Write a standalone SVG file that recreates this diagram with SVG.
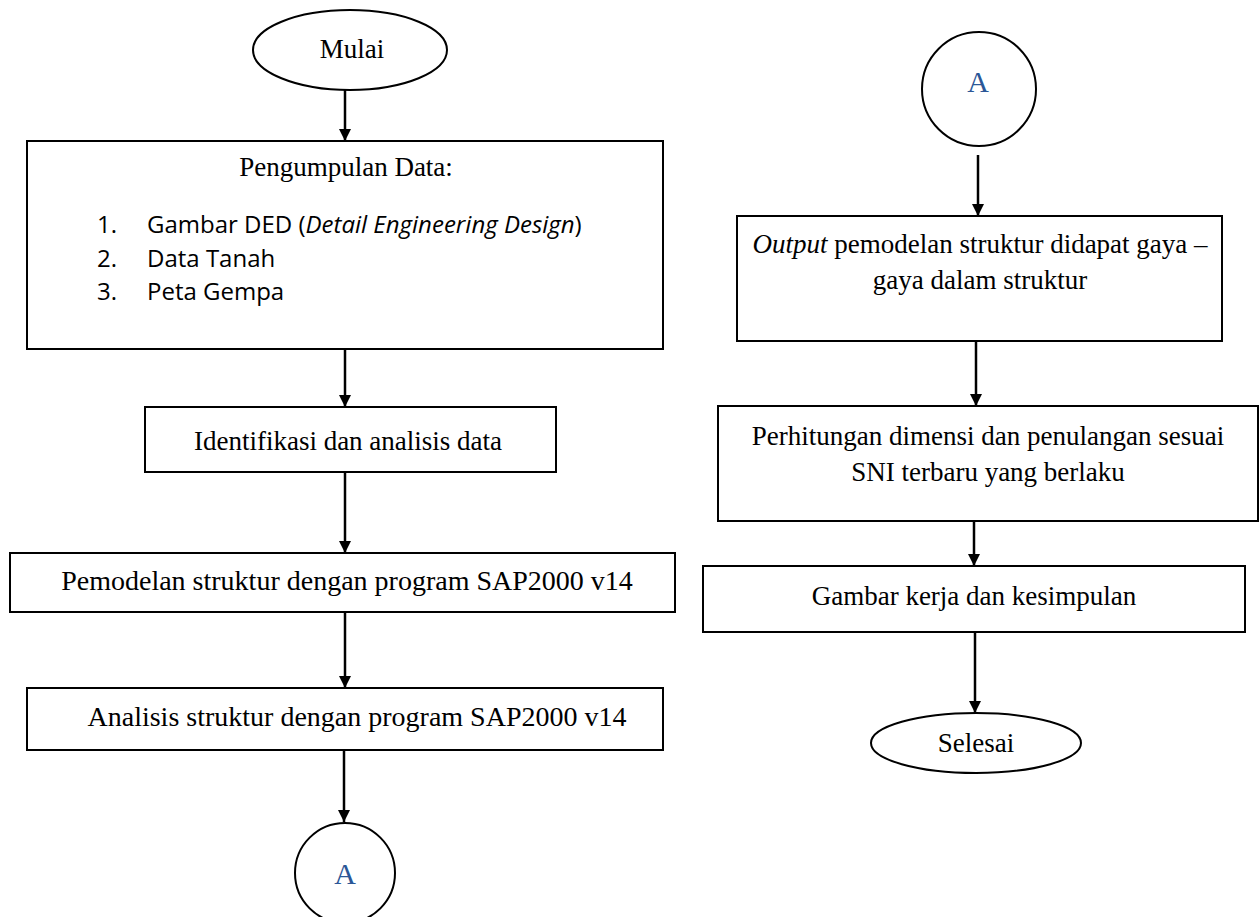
<svg xmlns="http://www.w3.org/2000/svg" width="1260" height="917" viewBox="0 0 1260 917">
<defs>
<marker id="arr" viewBox="0 0 10 10" refX="10" refY="5" markerWidth="13" markerHeight="12" orient="auto" markerUnits="userSpaceOnUse">
<path d="M0,0 L10,5 L0,10 z" fill="#000"/>
</marker>
<style>
.shape{fill:#fff;stroke:#000;stroke-width:2}
.t{font-family:"Liberation Serif","Times New Roman",serif;font-size:27px;fill:#000;text-anchor:middle}
.big{font-size:28px}
.c{font-family:"Open Sans","Noto Sans","Liberation Sans",sans-serif;font-size:24px;fill:#000}
.a{font-family:"Liberation Serif","Times New Roman",serif;font-size:30px;fill:#2B5797;text-anchor:middle}
.conn line{stroke:#000;stroke-width:2.5;marker-end:url(#arr)}
</style>
</defs>
<rect width="1260" height="917" fill="#fff"/>
<g class="conn" id="connectors">
<line x1="345" y1="90" x2="345" y2="141"/>
<line x1="345" y1="349" x2="345" y2="407"/>
<line x1="345" y1="472" x2="345" y2="553"/>
<line x1="345" y1="612" x2="345" y2="688"/>
<line x1="344" y1="745" x2="344" y2="822"/>
<line x1="978" y1="155" x2="978" y2="216"/>
<line x1="976" y1="341" x2="976" y2="406"/>
<line x1="974" y1="521" x2="974" y2="566"/>
<line x1="975" y1="632" x2="975" y2="713"/>
</g>
<g id="mulai">
<ellipse class="shape" cx="350" cy="50" rx="97" ry="40"/>
<text class="t" x="352" y="58">Mulai</text>
</g>
<g id="pengumpulan">
<rect class="shape" x="27" y="141" width="636" height="208"/>
<text class="t" x="346" y="176">Pengumpulan Data:</text>
<text class="c" x="97" y="233">1.</text>
<text class="c" x="147" y="233">Gambar DED (<tspan font-style="italic">Detail Engineering Design</tspan>)</text>
<text class="c" x="97" y="267">2.</text>
<text class="c" x="147" y="267">Data Tanah</text>
<text class="c" x="97" y="300">3.</text>
<text class="c" x="147" y="300">Peta Gempa</text>
</g>
<g id="identifikasi">
<rect class="shape" x="145" y="407" width="411" height="65"/>
<text class="t" x="348" y="450">Identifikasi dan analisis data</text>
</g>
<g id="pemodelan">
<rect class="shape" x="10" y="553" width="665" height="59"/>
<text class="t big" x="347" y="590">Pemodelan struktur dengan program SAP2000 v14</text>
</g>
<g id="analisis">
<rect class="shape" x="27" y="688" width="636" height="62"/>
<text class="t big" x="357" y="726">Analisis struktur dengan program SAP2000 v14</text>
</g>
<g id="connA1">
<circle class="shape" cx="345" cy="873" r="50"/>
<text class="a" x="345" y="884">A</text>
</g>
<g id="connA2">
<circle class="shape" cx="979" cy="89" r="57"/>
<text class="a" x="978" y="92">A</text>
</g>
<g id="output">
<rect class="shape" x="737" y="216" width="485" height="125"/>
<text class="t" x="980" y="253"><tspan font-style="italic">Output</tspan> pemodelan struktur didapat gaya –</text>
<text class="t" x="980" y="289">gaya dalam struktur</text>
</g>
<g id="perhitungan">
<rect class="shape" x="718" y="406" width="540" height="115"/>
<text class="t" x="988" y="445">Perhitungan dimensi dan penulangan sesuai</text>
<text class="t" x="988" y="481">SNI terbaru yang berlaku</text>
</g>
<g id="gambar">
<rect class="shape" x="703" y="566" width="542" height="66"/>
<text class="t" x="974" y="605">Gambar kerja dan kesimpulan</text>
</g>
<g id="selesai">
<ellipse class="shape" cx="976" cy="743" rx="105" ry="30"/>
<text class="t" x="976" y="752">Selesai</text>
</g>
</svg>
